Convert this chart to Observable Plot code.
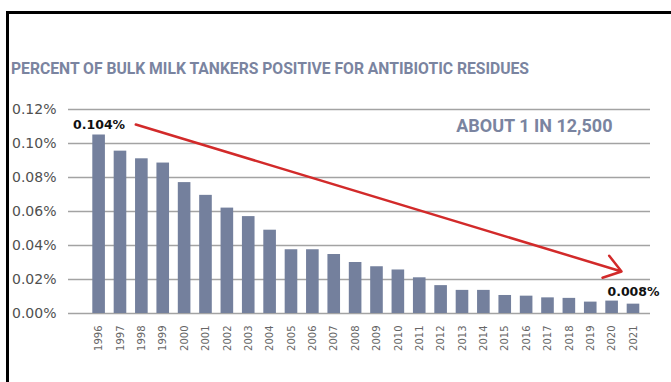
<!DOCTYPE html>
<html>
<head>
<meta charset="utf-8">
<script src="https://cdn.jsdelivr.net/npm/d3@7"></script>
<script src="https://cdn.jsdelivr.net/npm/@observablehq/plot@0.6"></script>
<style>
  html, body { margin: 0; padding: 0; background: #fff; }
  #wrap { position: relative; width: 671px; height: 382px; overflow: hidden; background: #fff; }
  #frame { position: absolute; left: 6px; top: 11px; width: 700px; height: 400px;
           border-left: 3px solid #000; border-top: 3px solid #000; box-sizing: border-box; }
  #title { position: absolute; left: 11px; top: 59px; white-space: nowrap;
           font-family: Roboto, sans-serif; font-weight: 700; font-size: 16px; color: #7a84a0;
           transform-origin: 0 50%; }
  #chart { position: absolute; left: 0; top: 90px; }
</style>
</head>
<body>
<div id="wrap">
  <div id="frame"></div>
  <div id="title">PERCENT OF BULK MILK TANKERS POSITIVE FOR ANTIBIOTIC RESIDUES</div>
  <div id="chart"></div>
</div>
<script>
const years = ["1996","1997","1998","1999","2000","2001","2002","2003","2004","2005","2006","2007","2008","2009","2010","2011","2012","2013","2014","2015","2016","2017","2018","2019","2020","2021"];
const values = [0.105,0.0955,0.091,0.0885,0.077,0.0695,0.062,0.057,0.049,0.0375,0.0375,0.0347,0.030,0.0275,0.0256,0.021,0.0164,0.0136,0.0136,0.0106,0.0102,0.0092,0.0089,0.0067,0.0073,0.0055];
const yTicks = [0, 0.02, 0.04, 0.06, 0.08, 0.10, 0.12];
const startLabel = "0.104%";
const endLabel = "0.008%";
const noteLabel = "ABOUT 1 IN 12,500";
const trendFrom = {year: "1997", value: 0.1139};
const trendTo = {year: "2021", value: 0.0226};

const data = years.map((y, i) => ({year: y, value: values[i]}));

const chart = Plot.plot({
  width: 671,
  height: 292,
  marginLeft: 68,
  marginRight: 21,
  marginTop: 19,
  marginBottom: 69,
  style: {fontFamily: "DejaVu Sans, sans-serif", background: "transparent"},
  x: {domain: years, range: [92.3, 639.3], paddingInner: 0.41, paddingOuter: 0, round: false, label: null},
  y: {domain: [0, 0.12], label: null},
  marks: [
    Plot.ruleY(yTicks, {stroke: "#a3a3a3", strokeWidth: 1.5}),
    Plot.barY(data, {x: "year", y: "value", fill: "#74809d"}),
    Plot.axisY({ticks: yTicks, tickSize: 0, tickPadding: 12, tickFormat: d => d.toFixed(2) + "%",
                fontSize: 14, fill: "#505050", label: null}),
    Plot.axisX({tickSize: 0, tickRotate: -90, tickPadding: 12, fontSize: 10, fill: "#666", label: null}),
    Plot.arrow([{}], {x1: () => trendFrom.year, y1: () => trendFrom.value,
                      x2: () => trendTo.year, y2: () => trendTo.value,
                      insetStart: 16, insetEnd: 12.5, stroke: "#d22a2a", strokeWidth: 2.5,
                      headLength: 12, headAngle: 70}),
    Plot.text([data[0]], {x: "year", y: "value", text: () => startLabel, dy: -10,
                          fontSize: 12.5, fontWeight: "bold", fill: "#111"}),
    Plot.text([data[data.length - 1]], {x: "year", y: "value", text: () => endLabel, dy: -12,
                          fontSize: 12.5, fontWeight: "bold", fill: "#111"}),
    Plot.text([noteLabel], {frameAnchor: "top-right", textAnchor: "end", lineAnchor: "middle",
                            dx: -38, dy: 17, fontSize: 18, fontWeight: "bold",
                            fontFamily: "Roboto, sans-serif", fill: "#7a84a0"})
  ]
});
document.getElementById("chart").appendChild(chart);

const title = document.getElementById("title");
const w = title.getBoundingClientRect().width;
title.style.transform = `scaleX(${518 / w})`;
</script>
</body>
</html>
